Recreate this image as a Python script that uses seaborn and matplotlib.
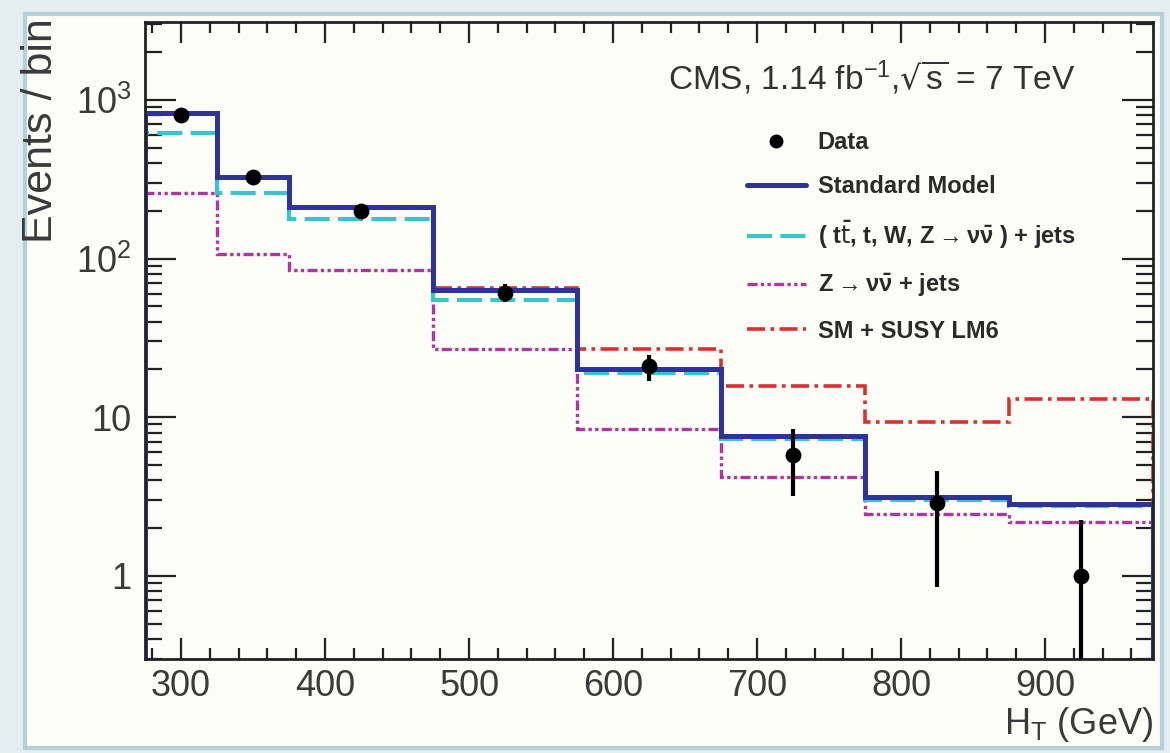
import numpy as np
import matplotlib
matplotlib.use("Agg")
import matplotlib.pyplot as plt
import seaborn as sns
from matplotlib.patches import Rectangle
from matplotlib.lines import Line2D
from matplotlib.ticker import MultipleLocator, LogLocator, FixedLocator, FixedFormatter, NullFormatter

# ---------------- data ----------------
bin_edges = [275, 325, 375, 475, 575, 675, 775, 875, 975]
standard_model = [828, 326, 210, 63, 20, 7.6, 3.16, 2.85]
ttbar_w_z_jets = [619, 258, 177, 55, 19, 7.3, 3.0, 2.75]
znunu_jets = [258, 106, 85, 27, 8.4, 4.2, 2.45, 2.2]
sm_susy_lm6 = [828, 326, 210, 65, 27, 15.7, 9.3, 13.0]
data_x = [300, 350, 425, 525, 625, 725, 825, 925]
data_y = [800, 326, 198, 61, 21, 5.8, 2.9, 1.0]
data_err_low = [28, 18, 14, 8, 4.2, 2.6, 2.05, 0.999]
data_err_high = [28, 18, 14, 8, 3.5, 2.6, 1.65, 1.26]
y_ticks = [1, 10, 100, 1000]
y_tick_labels = ["1", "10", r"10$^{2}$", r"10$^{3}$"]
x_ticks = [300, 400, 500, 600, 700, 800, 900]
legend_labels = ["Data", "Standard Model",
                 r"( t$\bar{\rm t}$, t, W, Z$\rightarrow\nu\bar{\nu}$ ) + jets",
                 r"Z$\rightarrow\nu\bar{\nu}$ + jets", "SM + SUSY LM6"]

sns.set_style("ticks")
plt.rcParams["font.family"] = ["Liberation Sans", "DejaVu Sans"]
plt.rcParams["mathtext.default"] = "regular"

fig = plt.figure(figsize=(11.7, 7.53), dpi=100, facecolor="#e4edf0")
bg = fig.add_axes([0, 0, 1, 1], zorder=-5)
bg.set_axis_off()
bg.set_xlim(0, 1)
bg.set_ylim(0, 1)
bg.add_patch(Rectangle((0.021, 0.006), 0.972, 0.975, facecolor="#fdfdf7",
                       edgecolor="#b4d2d5", linewidth=3))

ax = fig.add_axes([0.124, 0.125, 0.8615, 0.846], zorder=1)
ax.set_facecolor("#fdfdf7")
ax.set_yscale("log")

baseline = 0.05
edges = np.asarray(bin_edges, float)

def steps(values):
    x = np.repeat(edges, 2)
    y = np.concatenate([[baseline], np.repeat(np.asarray(values, float), 2), [baseline]])
    return x, y

styles = {
    "mag": dict(color="#b0359e", linewidth=2.4, linestyle=(0, (3, 1, 1, 1, 1, 1))),
    "cyan": dict(color="#38c4c8", linewidth=3.0, linestyle=(0, (6, 2))),
    "red": dict(color="#d93030", linewidth=2.6, linestyle=(0, (5, 1.5, 1, 1.5))),
    "blue": dict(color="#2f3399", linewidth=3.6, linestyle="-"),
}

for series, key in [(znunu_jets, "mag"), (ttbar_w_z_jets, "cyan"),
                    (sm_susy_lm6, "red"), (standard_model, "blue")]:
    xs, ys = steps(series)
    sns.lineplot(x=xs, y=ys, sort=False, estimator=None, ax=ax,
                 solid_joinstyle="miter", dash_joinstyle="miter", **styles[key])

ax.errorbar(data_x, data_y, yerr=[data_err_low, data_err_high], fmt="none",
            ecolor="black", elinewidth=3, capsize=0, zorder=5)
sns.scatterplot(x=data_x, y=data_y, ax=ax, color="black", s=130, edgecolor="black",
                linewidth=0, zorder=6)

ax.set_xlim(275, 975)
ax.set_ylim(0.3, 3100)

ax.xaxis.set_major_locator(FixedLocator(x_ticks))
ax.xaxis.set_minor_locator(MultipleLocator(20))
ax.yaxis.set_major_locator(FixedLocator(y_ticks))
ax.yaxis.set_major_formatter(FixedFormatter(y_tick_labels))
ax.yaxis.set_minor_locator(LogLocator(base=10, subs=np.arange(2, 10)))
ax.yaxis.set_minor_formatter(NullFormatter())

ax.tick_params(axis="both", which="both", direction="in", top=True, right=True,
               colors="#222222", labelcolor="#3a3a3a", width=1.6)
ax.tick_params(axis="x", which="major", length=15, labelsize=26, pad=7)
ax.tick_params(axis="x", which="minor", length=8)
ax.tick_params(axis="y", which="major", length=22, labelsize=26, pad=10)
ax.tick_params(axis="y", which="minor", length=12)
for s in ax.spines.values():
    s.set_color("#222222")
    s.set_linewidth(2)

ax.set_xlabel(r"H$_{T}$ (GeV)", fontsize=26, color="#3a3a3a", loc="right")
ax.xaxis.set_label_coords(1.0, -0.072)
ax.set_ylabel("Events / bin", fontsize=31, color="#3a3a3a", loc="top")
ax.yaxis.set_label_coords(-0.083, 1.005)

ax.text(0.721, 0.912, r"CMS, 1.14 fb$^{-1}$,$\sqrt{s}$ = 7 TeV", transform=ax.transAxes,
        ha="center", va="center", fontsize=24, color="#333333")

handles = [Line2D([], [], color="black", marker="o", linestyle="none", markersize=9)]
for key in ["blue", "cyan", "mag", "red"]:
    handles.append(Line2D([], [], **styles[key]))
leg = ax.legend(handles, legend_labels, loc="upper left", bbox_to_anchor=(0.576, 0.862),
                frameon=False, handlelength=2.5, handletextpad=0.5, labelspacing=0.88,
                prop=dict(family="Liberation Sans", weight="bold", size=17))
for t in leg.get_texts():
    t.set_color("#2a2a2a")

fig.savefig("out.png", dpi=100, facecolor=fig.get_facecolor())
